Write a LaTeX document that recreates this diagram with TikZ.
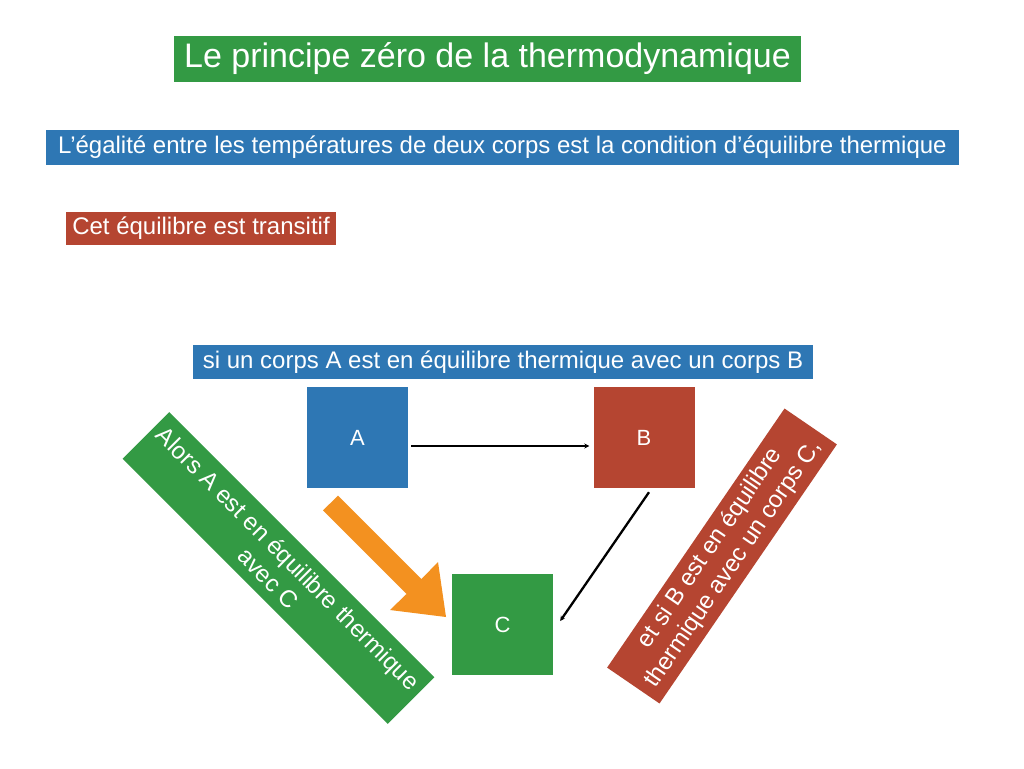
\documentclass[tikz,border=0pt]{standalone}
\usepackage{fontspec}
\setmainfont{Liberation Sans}
\usetikzlibrary{arrows.meta}
\definecolor{mygreen}{RGB}{51,154,68}
\definecolor{myblue}{RGB}{46,119,180}
\definecolor{myred}{RGB}{181,69,49}
\definecolor{myorange}{RGB}{243,145,32}
\begin{document}
\begin{tikzpicture}[x=1pt,y=-1pt,
  box/.style={inner sep=0pt,text=white,font=\fontsize{24}{28}\selectfont},
  sq/.style={box,minimum width=101pt,minimum height=101pt,font=\fontsize{22}{26}\selectfont},
  conn/.style={-{Stealth[length=5pt,width=5pt]},line width=2.3pt}]
\useasboundingbox (0,0) rectangle (1024,768);
\fill[white] (0,0) rectangle (1024,768);
\node[box,fill=mygreen,minimum width=627pt,minimum height=46pt,font=\fontsize{34}{38}\selectfont] (title) at (487.5,59) {Le principe zéro de la thermodynamique};
\node[box,fill=myblue,minimum width=913pt,minimum height=35pt] (sub) at (502.5,147.5) {L’égalité entre les températures de deux corps est la condition d’équilibre thermique};
\node[box,fill=myred,minimum width=270pt,minimum height=33pt] (cet) at (201,228.5) {Cet équilibre est transitif};
\node[box,fill=myblue,minimum width=620pt,minimum height=34pt] (si) at (503,362) {si un corps A est en équilibre thermique avec un corps B};
\node[sq,fill=myblue] (A) at (357.5,437.5) {A};
\node[sq,fill=myred] (B) at (644,437.5) {B};
\node[sq,fill=mygreen] (C) at (502.5,624.5) {C};
\node[box,fill=mygreen,rotate=-45,minimum width=375pt,minimum height=66pt,align=center] (alors) at (278.5,568) {Alors A est en équilibre thermique\\avec C};
\node[box,fill=myred,rotate=55.6,minimum width=314pt,minimum height=63.5pt,align=center] (etsi) at (722,556) {et si B est en équilibre\\thermique avec un corps C,};
\draw[conn] ([xshift=3pt,yshift=-8.5pt]A.east) -- ([xshift=-4pt,yshift=-8.5pt]B.west);
\draw[conn] ([xshift=5pt,yshift=-4pt]B.south) -- ([xshift=7pt,yshift=3.5pt]C.east);
\fill[myorange] (323,510.4) -- (338,495.6) -- (421.4,579.1) -- (438,562) -- (446,617) -- (390,610) -- (406.6,593.9) -- cycle;
\end{tikzpicture}
\end{document}
